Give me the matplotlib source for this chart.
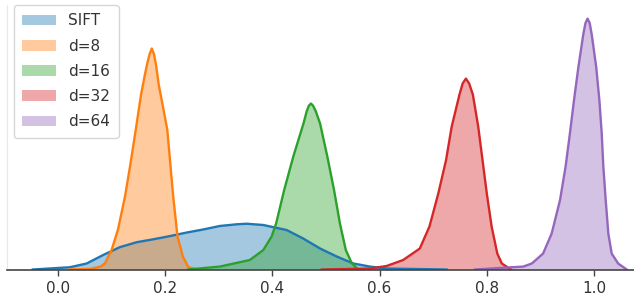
import matplotlib
matplotlib.use("Agg")
import matplotlib.pyplot as plt
import numpy as np

# density curves (x value, density)
labels = ["SIFT", "d=8", "d=16", "d=32", "d=64"]
colors = ["#1f77b4", "#ff7f0e", "#2ca02c", "#d62728", "#9467bd"]

sift_x = [-0.047, 0.022, 0.0535, 0.0845, 0.1157, 0.1468, 0.178, 0.209, 0.240, 0.271,
          0.302, 0.3334, 0.352, 0.383, 0.4267, 0.4577, 0.489, 0.52, 0.551, 0.582,
          0.613, 0.725]
sift_y = [0.0, 0.16, 0.43, 1.04, 1.60, 1.95, 2.16, 2.39, 2.64, 2.86,
          3.11, 3.23, 3.27, 3.18, 2.82, 2.21, 1.5, 0.93, 0.43, 0.21,
          0.07, 0.0]

d8_x = [0.02, 0.06, 0.08, 0.088, 0.100, 0.112, 0.125, 0.135, 0.145, 0.155,
        0.162, 0.167, 0.171, 0.175, 0.179, 0.183, 0.188, 0.196, 0.204, 0.215,
        0.223, 0.233, 0.243, 0.26]
d8_y = [0.0, 0.04, 0.21, 0.46, 1.39, 2.86, 5.21, 7.5, 9.96, 12.5,
        13.9, 14.8, 15.4, 15.79, 15.4, 14.6, 13.2, 11.6, 9.96, 5.21,
        2.36, 0.93, 0.18, 0.0]

d16_x = [0.243, 0.302, 0.358, 0.383, 0.3986, 0.407, 0.422, 0.439, 0.458, 0.464,
         0.468, 0.472, 0.476, 0.481, 0.489, 0.5025, 0.515, 0.526, 0.537, 0.548,
         0.56]
d16_y = [0.0, 0.21, 0.68, 1.39, 2.36, 3.29, 5.68, 8.07, 10.43, 11.3,
         11.7, 11.86, 11.7, 11.3, 10.43, 8.07, 5.68, 3.29, 1.39, 0.46,
         0.0]

d32_x = [0.492, 0.582, 0.613, 0.644, 0.675, 0.693, 0.7095, 0.724, 0.7345, 0.749,
         0.755, 0.761, 0.767, 0.774, 0.784, 0.792, 0.80, 0.809, 0.8196, 0.828,
         0.845]
d32_y = [0.0, 0.07, 0.25, 0.68, 1.5, 3.07, 5.43, 7.82, 10.21, 12.5,
         13.3, 13.64, 13.3, 12.5, 10.21, 7.82, 5.43, 3.07, 1.14, 0.43,
         0.0]

d64_x = [0.778, 0.868, 0.884, 0.905, 0.921, 0.9366, 0.947, 0.955, 0.9627, 0.971,
         0.980, 0.984, 0.988, 0.992, 0.9957, 1.004, 1.010, 1.0144, 1.0174, 1.0218,
         1.0267, 1.033, 1.045, 1.061]
d64_y = [0.0, 0.21, 0.43, 1.14, 2.57, 4.96, 7.36, 9.71, 12.11, 14.5,
         16.8, 17.6, 17.93, 17.6, 16.8, 14.5, 12.11, 9.71, 7.36, 4.96,
         2.57, 1.14, 0.43, 0.0]

xticks = [0.0, 0.2, 0.4, 0.6, 0.8, 1.0]

series = [(sift_x, sift_y), (d8_x, d8_y), (d16_x, d16_y), (d32_x, d32_y), (d64_x, d64_y)]

fig = plt.figure(figsize=(6.34, 2.98), dpi=100)
ax = fig.add_axes([0.0118, 0.0956, 0.9882, 0.8876])

for (xs, ys), label, color in zip(series, labels, colors):
    xs = np.asarray(xs)
    ys = np.asarray(ys)
    ax.fill_between(xs, 0, ys, color=color, alpha=0.4, linewidth=0, label=label)
    ax.plot(xs, ys, color=color, lw=1.7, solid_joinstyle="round")

ax.set_xlim(-0.0942, 1.0746)
ax.set_ylim(0, 18.9)
ax.set_xticks(xticks)
ax.set_xticklabels([f"{t:.1f}" for t in xticks])
ax.set_yticks([])

for side in ("top", "right"):
    ax.spines[side].set_visible(False)
ax.spines["left"].set_color("#e8e8e8")
ax.spines["left"].set_linewidth(0.8)
ax.spines["bottom"].set_color("#444444")
ax.spines["bottom"].set_linewidth(1.2)
ax.tick_params(axis="x", colors="#444444", labelcolor="#333333", labelsize=11,
               length=4.5, width=1.0, pad=4)

# legend box placed in figure coords: top-left corner at (14, 5) px
ax.legend(loc="upper left", fontsize=11, frameon=True, edgecolor="#cccccc",
          labelcolor="#333333", handlelength=2.2, labelspacing=0.67,
          borderpad=0.55, bbox_to_anchor=(14 / 634, 1 - 5 / 298),
          bbox_transform=fig.transFigure, borderaxespad=0.0)

fig.savefig("out.png", dpi=100)
